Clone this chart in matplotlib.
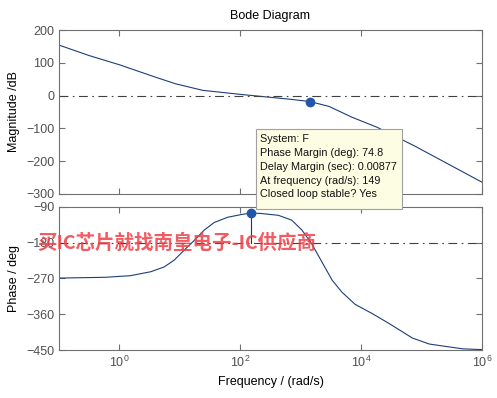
import numpy as np
import matplotlib.pyplot as plt
from matplotlib.patches import Rectangle
from matplotlib.ticker import FixedLocator, NullLocator

plt.rcParams['font.family'] = ['Liberation Sans', 'DejaVu Sans']

# Bode data (log10 of frequency in rad/s)
mag_logw = [-1.0, -0.5, 0.0, 0.6, 0.93, 1.38, 2.04, 2.82, 3.15, 3.47, 3.85, 4.27, 4.9, 6.0]
mag_db = [154, 122, 94, 56, 36, 16, 3, -11, -18, -33, -66, -97, -155, -264]

phase_logw = [-1.0, -0.23, 0.18, 0.52, 0.74, 0.905, 1.07, 1.24, 1.405, 1.57, 1.79, 2.02,
              2.18, 2.35, 2.63, 2.85, 3.02, 3.18, 3.35, 3.52, 3.68, 3.9, 4.18, 4.46,
              4.85, 5.13, 5.4, 5.68, 6.0]
phase_deg = [-269, -267, -263, -253, -241, -224, -199, -174, -148, -129, -116, -109,
             -105.2, -106.5, -111, -123, -148, -182, -228, -274, -304, -335, -358, -383,
             -420, -435, -441, -447, -449]

mag_marker = (1413, -18)
pm_freq = 149
pm_phase = -105.2

tip_lines = ['System: F',
             'Phase Margin (deg): 74.8',
             'Delay Margin (sec): 0.00877',
             'At frequency (rad/s): 149',
             'Closed loop stable? Yes']

line_c = '#1c3f78'
dot_c = '#2456a8'
frame_c = '#707070'
tick_c = '#505050'

W, H = 497, 398
fig = plt.figure(figsize=(W / 100, H / 100), dpi=100)
ax1 = fig.add_axes([0.1187, 0.5126, 0.851, 0.412])
ax2 = fig.add_axes([0.1187, 0.1206, 0.851, 0.3594])

w_mag = 10 ** np.array(mag_logw)
w_ph = 10 ** np.array(phase_logw)

ax1.semilogx(w_mag, mag_db, color=line_c, lw=0.8)
ax1.axhline(0, color='#404040', lw=0.8, ls=(0, (8, 4, 1.5, 4)))
ax1.plot(*mag_marker, 'o', color=dot_c, ms=6)
ax1.set_ylim(-300, 200)
ax1.set_yticks([-300, -200, -100, 0, 100, 200])
ax1.set_ylabel('Magnitude /dB', fontsize=9, labelpad=4)
ax1.set_title('Bode Diagram', fontsize=9, pad=8)

ax2.semilogx(w_ph, phase_deg, color=line_c, lw=0.8)
ax2.axhline(-180, color='#404040', lw=0.8, ls=(0, (8, 4, 1.5, 4)))
ax2.plot([pm_freq, pm_freq], [pm_phase, -180], color='#333333', lw=0.8)
ax2.plot(pm_freq, pm_phase, 'o', color=dot_c, ms=6)
ax2.set_ylim(-450, -90)
ax2.set_yticks([-450, -360, -270, -180, -90])
ax2.set_ylabel('Phase / deg', fontsize=9, labelpad=4)
ax2.set_xlabel('Frequency / (rad/s)', fontsize=9, labelpad=4)

for ax in (ax1, ax2):
    ax.set_xlim(1e-1, 1e6)
    ax.xaxis.set_major_locator(FixedLocator([1e0, 1e2, 1e4, 1e6]))
    ax.xaxis.set_minor_locator(NullLocator())
    ax.tick_params(direction='in', top=True, right=True, length=4,
                   color=frame_c, labelcolor=tick_c, labelsize=9)
    for s in ax.spines.values():
        s.set_color(frame_c)
        s.set_linewidth(0.8)
ax1.tick_params(labelbottom=False)

# watermark
fig.text(0.355, 0.389, '买IC芯片就找南皇电子-IC供应商', ha='center', va='center',
         fontsize=14, fontweight='bold', color='#ee3f46', alpha=0.85,
         family=['Noto Sans CJK SC', 'DejaVu Sans'])

# data tip box (pixel box from the screenshot)
x0, y0, x1, y1 = 255.5, 128.5, 401.5, 208.5
fig.patches.append(Rectangle((x0 / W, 1 - y1 / H), (x1 - x0) / W, (y1 - y0) / H,
                             transform=fig.transFigure, facecolor='#fdfde3',
                             edgecolor='#a0a0a0', lw=0.8, zorder=5))
fig.text(260 / W, 1 - 134.5 / H, '\n'.join(tip_lines), ha='left', va='top',
         fontsize=7.8, linespacing=1.46, color='#111111', zorder=6)

fig.savefig('out.png', dpi=100)
